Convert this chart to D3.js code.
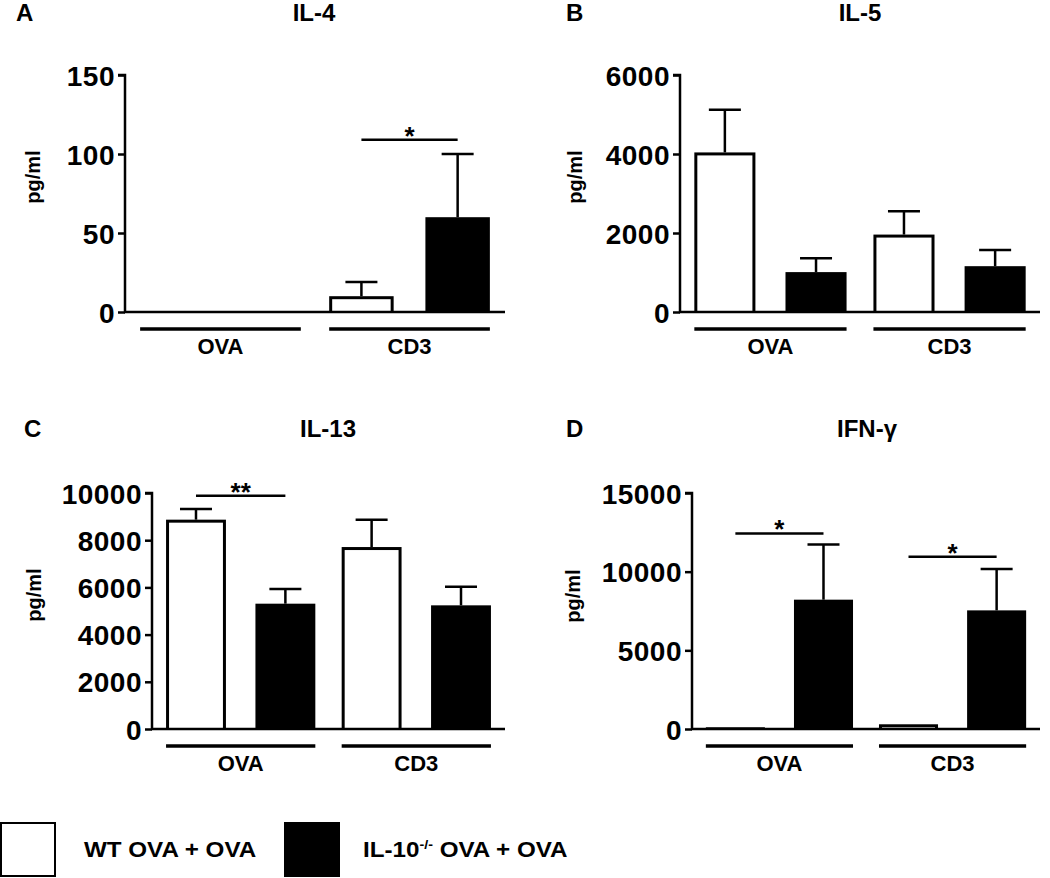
<!DOCTYPE html>
<html><head><meta charset="utf-8">
<script src="https://cdn.jsdelivr.net/npm/d3@7"></script>
<style>
body{margin:0;background:#fff;}
text{font-family:"Liberation Sans",Arial,sans-serif;font-weight:bold;fill:#000;}
</style></head>
<body>
<svg id="chart" width="1050" height="878"></svg>
<script>
// ---- data ----
const groups = ["OVA", "CD3"];
const seriesNames = ["WT OVA + OVA", "IL-10"];
const panelLetters = ["A", "B", "C", "D"];
const panelTitles = ["IL-4", "IL-5", "IL-13", "IFN-γ"];
const yMaxes = [150, 6000, 10000, 15000];
const tickStepsY = [50, 2000, 2000, 5000];

const il4Wt = [0, 10];       const il4WtSem = [0, 9];
const il4Ko = [0, 60];       const il4KoSem = [0, 40];
const il5Wt = [4040, 1960];  const il5WtSem = [1080, 590];
const il5Ko = [1010, 1160];  const il5KoSem = [350, 410];
const il13Wt = [8870, 7710]; const il13WtSem = [450, 1160];
const il13Ko = [5310, 5240]; const il13KoSem = [620, 790];
const ifnWt = [110, 300];    const ifnWtSem = [0, 0];
const ifnKo = [8220, 7540];  const ifnKoSem = [3500, 2630];

// significance brackets: [group, y value, label]
const il4Sig = [["CD3", 109, "*"]];
const il5Sig = [];
const il13Sig = [["OVA", 9886, "**"]];
const ifnSig = [["OVA", 12430, "*"], ["CD3", 10950, "*"]];

// ---- layout ----
const panels = [
  {wt: il4Wt, wtSem: il4WtSem, ko: il4Ko, koSem: il4KoSem, sig: il4Sig,
   axisX: 125, xEnd: 505, yTop: 75, yZero: 312, titleX: 314, titleY: 21, letterX: 16, labelX: 40, labelY: 177},
  {wt: il5Wt, wtSem: il5WtSem, ko: il5Ko, koSem: il5KoSem, sig: il5Sig,
   axisX: 680, xEnd: 1040, yTop: 75, yZero: 312, titleX: 860, titleY: 21, letterX: 566, labelX: 582, labelY: 177},
  {wt: il13Wt, wtSem: il13WtSem, ko: il13Ko, koSem: il13KoSem, sig: il13Sig,
   axisX: 152, xEnd: 505, yTop: 493, yZero: 729, titleX: 328, titleY: 437, letterX: 24, labelX: 41, labelY: 595},
  {wt: ifnWt, wtSem: ifnWtSem, ko: ifnKo, koSem: ifnKoSem, sig: ifnSig,
   axisX: 692, xEnd: 1040, yTop: 493, yZero: 729, titleX: 867, titleY: 437, letterX: 566, labelX: 580, labelY: 596}
];

const svg = d3.select("#chart");

panels.forEach((p, i) => {
  const g = svg.append("g");
  const y = d3.scaleLinear().domain([0, yMaxes[i]]).range([p.yZero, p.yTop]);
  const x0 = d3.scaleBand().domain(groups).range([p.axisX, p.xEnd]).paddingInner(0.15).paddingOuter(0.08);
  const x1 = d3.scaleBand().domain([0, 1]).range([0, x0.bandwidth()]).paddingInner(0.33).paddingOuter(0);

  // title and letter
  g.append("text").attr("x", p.titleX).attr("y", p.titleY).attr("text-anchor", "middle")
    .style("font-size", "24px").text(panelTitles[i]);
  g.append("text").attr("x", p.letterX).attr("y", p.titleY).style("font-size", "24px").text(panelLetters[i]);

  // y label
  g.append("text").attr("transform", `translate(${p.labelX},${p.labelY}) rotate(-90)`)
    .attr("text-anchor", "middle").style("font-size", "20px").text("pg/ml");

  // bars
  const data = [];
  groups.forEach((grp, gi) => {
    data.push({grp, s: 0, v: p.wt[gi], e: p.wtSem[gi]});
    data.push({grp, s: 1, v: p.ko[gi], e: p.koSem[gi]});
  });
  const sw = 3;
  // error bars
  data.forEach(d => {
    if (d.e <= 0) return;
    const cx = x0(d.grp) + x1(d.s) + x1.bandwidth() / 2;
    g.append("line").attr("x1", cx).attr("x2", cx).attr("y1", y(d.v)).attr("y2", y(d.v + d.e))
      .attr("stroke", "#000").attr("stroke-width", 2.5);
    g.append("line").attr("x1", cx - 16).attr("x2", cx + 16).attr("y1", y(d.v + d.e)).attr("y2", y(d.v + d.e))
      .attr("stroke", "#000").attr("stroke-width", 2.5);
  });
  data.forEach(d => {
    if (d.v <= 0) return;
    const bx = x0(d.grp) + x1(d.s);
    const h = y(0) - y(d.v);
    g.append("rect").attr("x", bx).attr("width", x1.bandwidth())
      .attr("y", y(d.v)).attr("height", h).attr("fill", "#000");
    if (d.s === 0 && h > sw) {
      g.append("rect").attr("x", bx + sw).attr("width", x1.bandwidth() - 2 * sw)
        .attr("y", y(d.v) + sw).attr("height", h - sw).attr("fill", "#fff");
    }
  });

  // axes
  const yAxis = d3.axisLeft(y).tickValues(d3.range(0, yMaxes[i] + 1, tickStepsY[i]))
    .tickSize(7).tickPadding(3).tickFormat(d3.format("d"));
  const ya = g.append("g").attr("transform", `translate(${p.axisX},0)`).call(yAxis);
  ya.select(".domain").attr("stroke-width", 2.5).attr("d", `M-7,${p.yTop}H0V${p.yZero}`);
  ya.selectAll(".tick line").attr("stroke-width", 2.5);
  ya.selectAll(".tick text").style("font-size", "28px").style("font-family", "'Liberation Sans',Arial,sans-serif")
    .style("font-weight", "bold").style("letter-spacing", "0.5px").attr("dy", "0.36em");

  g.append("line").attr("x1", p.axisX - 1).attr("x2", p.xEnd).attr("y1", p.yZero).attr("y2", p.yZero)
    .attr("stroke", "#000").attr("stroke-width", 2.5);

  // group lines and labels
  groups.forEach(grp => {
    g.append("line").attr("x1", x0(grp)).attr("x2", x0(grp) + x0.bandwidth())
      .attr("y1", p.yZero + 17).attr("y2", p.yZero + 17).attr("stroke", "#000").attr("stroke-width", 3.5);
    g.append("text").attr("x", x0(grp) + x0.bandwidth() / 2).attr("y", p.yZero + 42)
      .attr("text-anchor", "middle").style("font-size", "22px").text(grp);
  });

  // significance
  p.sig.forEach(([grp, val, lab]) => {
    const xa = x0(grp) + x1(0) + x1.bandwidth() / 2;
    const xb = x0(grp) + x1(1) + x1.bandwidth() / 2;
    g.append("line").attr("x1", xa).attr("x2", xb).attr("y1", y(val)).attr("y2", y(val))
      .attr("stroke", "#000").attr("stroke-width", 2.5);
    g.append("text").attr("x", (xa + xb) / 2).attr("y", y(val) + 5).attr("text-anchor", "middle")
      .style("font-size", "26px").text(lab);
  });
});

// legend
const leg = svg.append("g");
leg.append("rect").attr("x", 1).attr("y", 823).attr("width", 54).attr("height", 53)
  .attr("fill", "#fff").attr("stroke", "#000").attr("stroke-width", 2);
leg.append("text").attr("transform", "translate(84,857) scale(1.1,1)").style("font-size", "22px").text(seriesNames[0]);
leg.append("rect").attr("x", 284).attr("y", 822).attr("width", 56).attr("height", 55).attr("fill", "#000");
const t2 = leg.append("text").attr("transform", "translate(363,857) scale(1.1,1)").style("font-size", "22px");
t2.append("tspan").text(seriesNames[1]);
t2.append("tspan").attr("dy", -8).style("font-size", "13px").text("-/-");
t2.append("tspan").attr("dy", 8).text(" OVA + OVA");
</script>
</body></html>
